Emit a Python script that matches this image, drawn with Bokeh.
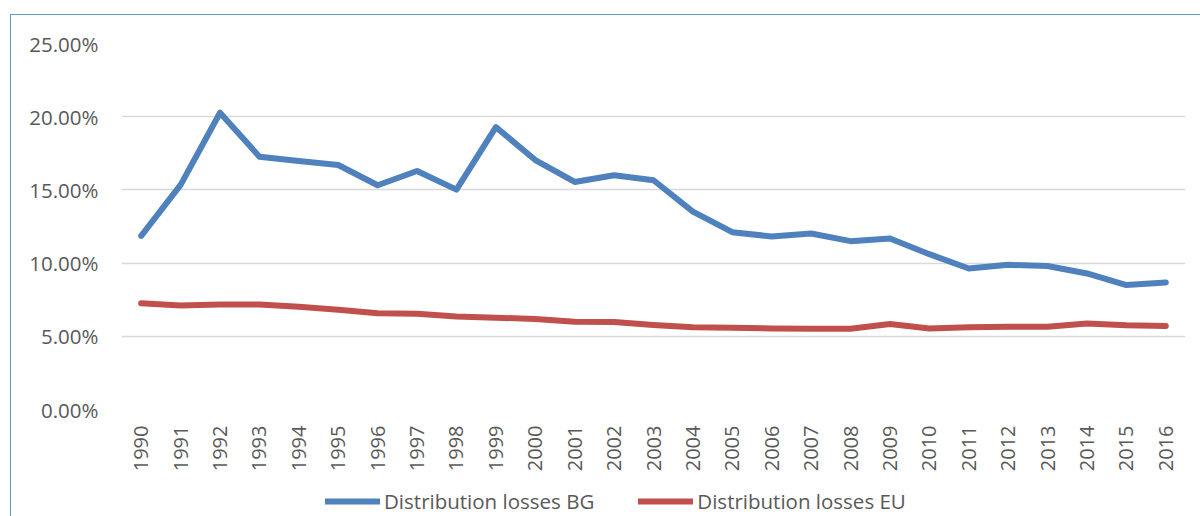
from math import pi
from bokeh.plotting import figure
from bokeh.layouts import column
from bokeh.models import FactorRange, Range1d, FixedTicker, NumeralTickFormatter, Legend, LegendItem
from bokeh.embed import file_html
from bokeh.resources import INLINE

years = [str(y) for y in range(1990, 2017)]
bg_losses = [0.1186, 0.1534, 0.2027, 0.1727, 0.1697, 0.1670, 0.1532, 0.1629, 0.1502, 0.1929,
             0.1704, 0.1554, 0.1600, 0.1566, 0.1352, 0.1211, 0.1182, 0.1202, 0.1150, 0.1168,
             0.1061, 0.0963, 0.0988, 0.0980, 0.0929, 0.0850, 0.0868]
eu_losses = [0.0725, 0.0711, 0.0718, 0.0718, 0.0702, 0.0682, 0.0657, 0.0654, 0.0636, 0.0627,
             0.0618, 0.0600, 0.0598, 0.0577, 0.0561, 0.0559, 0.0554, 0.0552, 0.0552, 0.0584,
             0.0554, 0.0561, 0.0566, 0.0566, 0.0588, 0.0575, 0.0570]
y_ticks = [0.0, 0.05, 0.10, 0.15, 0.20, 0.25]
series_names = ["Distribution losses BG", "Distribution losses EU"]
colors = ["#4F81BD", "#C0504D"]

FONT = "Open Sans"
GREY = "#595959"

# main chart
p = figure(width=1189, height=460, x_range=FactorRange(*years, range_padding=0),
           y_range=Range1d(0, 0.25), output_backend="svg", toolbar_location=None,
           min_border_left=110, min_border_top=28, min_border_right=15, min_border_bottom=66)
p.outline_line_color = None
p.background_fill_color = "white"
p.border_fill_color = "white"

p.line(years, bg_losses, line_color=colors[0], line_width=6, line_cap="round", line_join="round")
p.line(years, eu_losses, line_color=colors[1], line_width=6, line_cap="round", line_join="round")

p.xgrid.grid_line_color = None
p.ygrid.grid_line_color = "#D9D9D9"
p.ygrid.grid_line_width = 1.5
p.ygrid.level = "underlay"

p.yaxis.ticker = FixedTicker(ticks=y_ticks)
p.yaxis.formatter = NumeralTickFormatter(format="0.00%")
p.yaxis.axis_line_color = None
p.yaxis.major_tick_line_color = None
p.yaxis.minor_tick_line_color = None
p.yaxis.major_tick_out = 0
p.yaxis.minor_tick_out = 0
p.yaxis.major_label_standoff = 23
p.yaxis.major_label_text_font = FONT
p.yaxis.major_label_text_font_size = "20.5px"
p.yaxis.major_label_text_color = GREY

p.xaxis.axis_line_color = None
p.xaxis.major_tick_line_color = None
p.xaxis.major_tick_out = 0
p.xaxis.major_label_orientation = pi / 2
p.xaxis.major_label_standoff = 16
p.xaxis.major_label_text_font = FONT
p.xaxis.major_label_text_font_size = "20px"
p.xaxis.major_label_text_color = GREY

# legend strip (same series, drawn outside its visible y range so only the legend shows)
p2 = figure(width=1189, height=41, x_range=p.x_range, y_range=Range1d(1, 2),
            output_backend="svg", toolbar_location=None,
            x_axis_location=None, y_axis_location=None,
            min_border_left=0, min_border_right=0, min_border_top=0, min_border_bottom=0)
p2.outline_line_color = None
p2.xgrid.grid_line_color = None
p2.ygrid.grid_line_color = None
l_bg = p2.line(years, bg_losses, line_color=colors[0], line_width=6, line_cap="round")
l_eu = p2.line(years, eu_losses, line_color=colors[1], line_width=6, line_cap="round")

legend = Legend(items=[LegendItem(label=series_names[0], renderers=[l_bg]),
                       LegendItem(label=series_names[1], renderers=[l_eu])],
                orientation="horizontal", location=(204, 0),
                glyph_width=55, glyph_height=30, label_height=30, label_standoff=4, spacing=44,
                padding=0, margin=0, border_line_color=None, background_fill_alpha=0,
                label_text_font=FONT, label_text_font_size="20.5px", label_text_color=GREY)
p2.add_layout(legend, "center")

layout = column(p, p2, spacing=0)
layout.styles = {"transform": "translate(10px, 14px)",
                 "border-left": "1px solid #5B9BD5", "border-top": "1px solid #5B9BD5"}

open("out.html", "w").write(file_html(layout, INLINE))
